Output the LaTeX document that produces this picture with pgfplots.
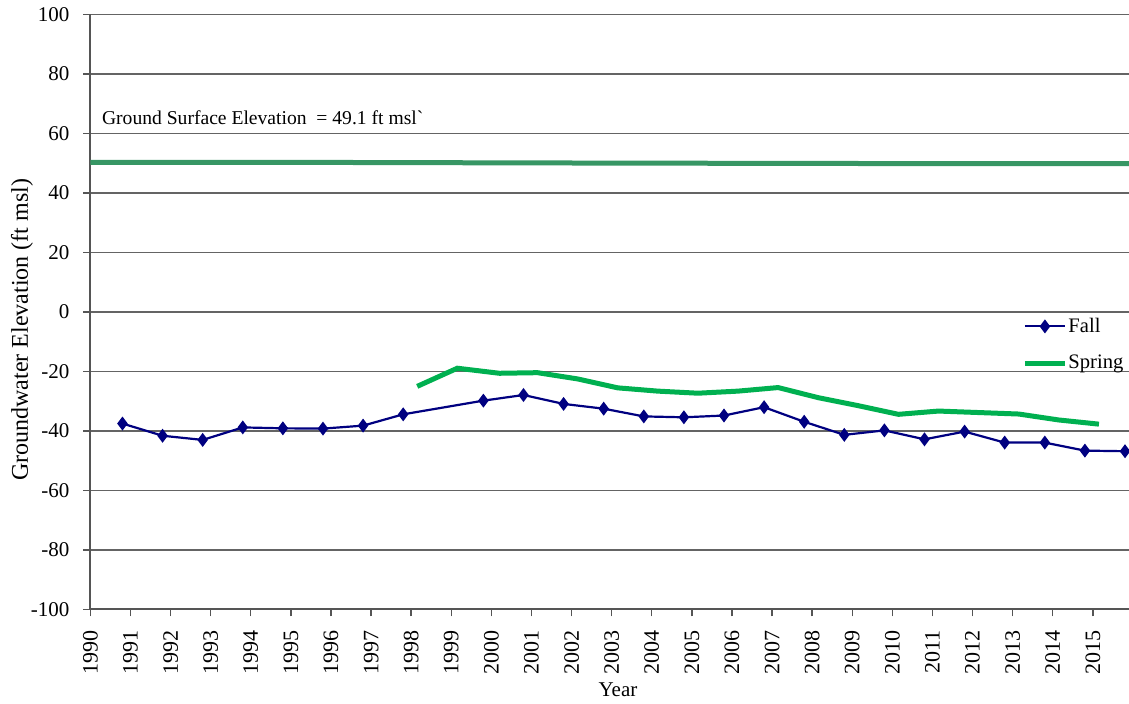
\documentclass[border=0pt]{standalone}
\usepackage{fontspec}
\setmainfont{Liberation Serif}
\usepackage{pgfplots}
\pgfplotsset{compat=1.18}
\definecolor{fallc}{RGB}{0,0,128}
\definecolor{springc}{RGB}{0,176,80}
\definecolor{groundc}{RGB}{55,150,100}
\definecolor{gridc}{RGB}{100,100,100}
\definecolor{axc}{RGB}{85,85,85}
\begin{document}
\begin{tikzpicture}
\begin{axis}[
  scale only axis, width=519.3pt, height=297.5pt,
  xmin=1990, xmax=2015.9, ymin=-100, ymax=100,
  axis x line*=bottom, axis y line*=left,
  axis line style={axc, line width=1pt},
  xtick={1990,...,2015}, ytick={-100,-80,...,100},
  ymajorgrids, grid style={gridc, line width=0.7pt},
  tick style={axc, line width=0.7pt},
  tick align=outside, major tick length=3.5pt,
  /pgf/number format/assume math mode=true,
  /pgf/number format/set thousands separator={},
  x tick label style={yshift=-3.5pt, rotate=90, anchor=east, font=\fontsize{11}{11}\selectfont},
  y tick label style={xshift=-3.5pt, font=\fontsize{10.5}{12}\selectfont},
  legend style={draw=none, fill=none, at={(rel axis cs:0.897,0.445)}, anchor=west,
    inner sep=0pt, font=\fontsize{10.3}{12}\selectfont, row sep=8pt, nodes={inner xsep=0.5pt, inner ysep=1pt}},
  legend cell align=left,
  legend image code/.code={\draw[mark repeat=2,mark phase=2,#1] plot coordinates {(0pt,0pt) (10pt,0pt) (20pt,0pt)};},
]
\addplot[groundc, line width=2.5pt, forget plot] coordinates {
(1990,50.3) (1996.5,50.25) (2003,50.05) (2009.7,49.9) (2016,49.85)};
\addplot[fallc, line width=1.1pt, mark=diamond*, mark size=2.6pt, mark options={solid,fill=fallc}] coordinates {
(1990.8,-37.5) (1991.8,-41.6) (1992.8,-43.0) (1993.8,-38.8) (1994.8,-39.1) (1995.8,-39.2)
(1996.8,-38.2) (1997.8,-34.4) (1999.8,-29.8) (2000.8,-27.9) (2001.8,-30.9) (2002.8,-32.5)
(2003.8,-35.1) (2004.8,-35.4) (2005.8,-34.8) (2006.8,-32.0) (2007.8,-36.9) (2008.8,-41.3)
(2009.8,-39.8) (2010.8,-42.8) (2011.8,-40.2) (2012.8,-43.9) (2013.8,-43.9) (2014.8,-46.6)
(2015.8,-46.8)};
\addlegendentry{Fall}
\addplot[springc, line width=2.5pt, no marks] coordinates {
(1998.15,-25.0) (1999.15,-18.9) (2000.2,-20.6) (2001.15,-20.4) (2002.15,-22.5) (2003.15,-25.5)
(2004.15,-26.6) (2005.15,-27.3) (2006.15,-26.6) (2007.15,-25.4) (2008.15,-28.8) (2009.15,-31.5)
(2010.15,-34.4) (2011.15,-33.3) (2012.15,-33.8) (2013.15,-34.3) (2014.15,-36.3) (2015.15,-37.7)};
\addlegendentry{Spring}
\node[anchor=west, inner sep=0pt, font=\fontsize{9.8}{12}\selectfont] at (axis cs:1990.28,65.2)
  {Ground Surface Elevation \ = 49.1 ft msl\textasciigrave};
\coordinate (bl) at (rel axis cs:0,0);
\coordinate (tr) at (rel axis cs:1,1);
\coordinate (yl) at (rel axis cs:0,0.47);
\end{axis}
\node[rotate=90, font=\fontsize{12}{14}\selectfont] at ([xshift=-34.2pt]yl) {Groundwater Elevation (ft msl)};
\node[font=\fontsize{10.5}{12}\selectfont] at ([xshift=263.8pt,yshift=-40.25pt]bl) {Year};
\pgfresetboundingbox
\path[use as bounding box] ([xshift=-45.2pt,yshift=-47.25pt]bl) rectangle ([yshift=7.25pt]tr);
\end{tikzpicture}
\end{document}
